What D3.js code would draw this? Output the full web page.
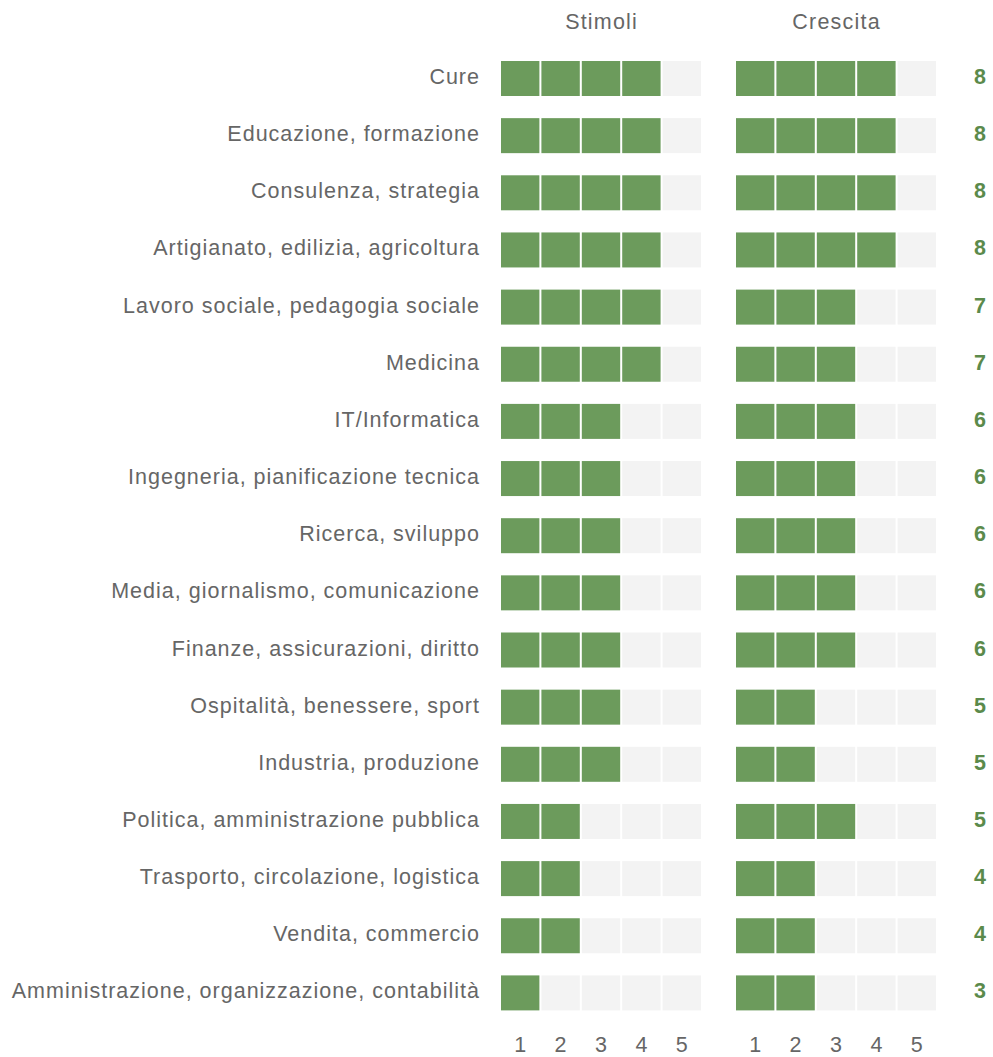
<!DOCTYPE html>
<html><head><meta charset="utf-8">
<script src="https://cdn.jsdelivr.net/npm/d3@7"></script>
<style>
html,body{margin:0;padding:0;background:#fff;}
svg text{font-family:"Liberation Sans", Arial, sans-serif;}
</style></head>
<body><svg id="c" width="993" height="1057"></svg>
<script>
const categories = ["Cure","Educazione, formazione","Consulenza, strategia","Artigianato, edilizia, agricoltura","Lavoro sociale, pedagogia sociale","Medicina","IT/Informatica","Ingegneria, pianificazione tecnica","Ricerca, sviluppo","Media, giornalismo, comunicazione","Finanze, assicurazioni, diritto","Ospitalità, benessere, sport","Industria, produzione","Politica, amministrazione pubblica","Trasporto, circolazione, logistica","Vendita, commercio","Amministrazione, organizzazione, contabilità"];
const stimoli  = [4,4,4,4,4,4,3,3,3,3,3,3,3,2,2,2,1];
const crescita = [4,4,4,4,3,3,3,3,3,3,3,2,2,3,2,2,2];
const totals   = [8,8,8,8,7,7,6,6,6,6,6,5,5,5,4,4,3];
const levels = [1,2,3,4,5];
const seriesNames = ["Stimoli","Crescita"];

const svg = d3.select("#c");
const green = "#6c9b5c", empty = "#f3f3f3", txt = "#666666", numCol = "#5b8a4b";
const FS = 21.5;

const y = d3.scaleBand().domain(categories).range([61, 1010.4]).paddingInner(0.3876).paddingOuter(0);
const xs = [
  d3.scaleBand().domain(levels).range([501, 701]).paddingInner(0.05),
  d3.scaleBand().domain(levels).range([736, 936]).paddingInner(0.05)
];
const vals = [stimoli, crescita];

xs.forEach((x, si) => {
  const g = svg.append("g");
  categories.forEach((c, i) => {
    g.selectAll(null).data(levels).join("rect")
      .attr("x", d => x(d)).attr("y", y(c))
      .attr("width", x.bandwidth()).attr("height", y.bandwidth())
      .attr("fill", d => d <= vals[si][i] ? green : empty);
  });
  svg.append("text").attr("x", (x.range()[0]+x.range()[1])/2 + 0.6).attr("y", 29)
    .attr("text-anchor","middle")
    .attr("font-size", FS).attr("fill", txt).attr("letter-spacing", "1.2px").text(seriesNames[si]);
  const ax = svg.append("g").attr("transform", "translate(0,1052)")
    .call(d3.axisBottom(x).tickSize(0).tickPadding(0));
  ax.select(".domain").remove();
  ax.selectAll("text").attr("font-size", FS).attr("fill", txt)
    .attr("font-family", "'Liberation Sans', Arial, sans-serif").attr("dy", "0");
});

svg.append("g").selectAll("text").data(categories).join("text")
  .attr("x", 480).attr("y", d => y(d) + y.bandwidth()/2 + 5.5)
  .attr("text-anchor","end")
  .attr("font-size", FS).attr("fill", txt).attr("letter-spacing", "1px").text(d => d);

svg.append("g").selectAll("text").data(totals).join("text")
  .attr("x", 980).attr("y", (d,i) => y(categories[i]) + y.bandwidth()/2 + 5.5)
  .attr("text-anchor","middle")
  .attr("font-size", FS).attr("font-weight", 700).attr("fill", numCol).text(d => d);
</script></body></html>
